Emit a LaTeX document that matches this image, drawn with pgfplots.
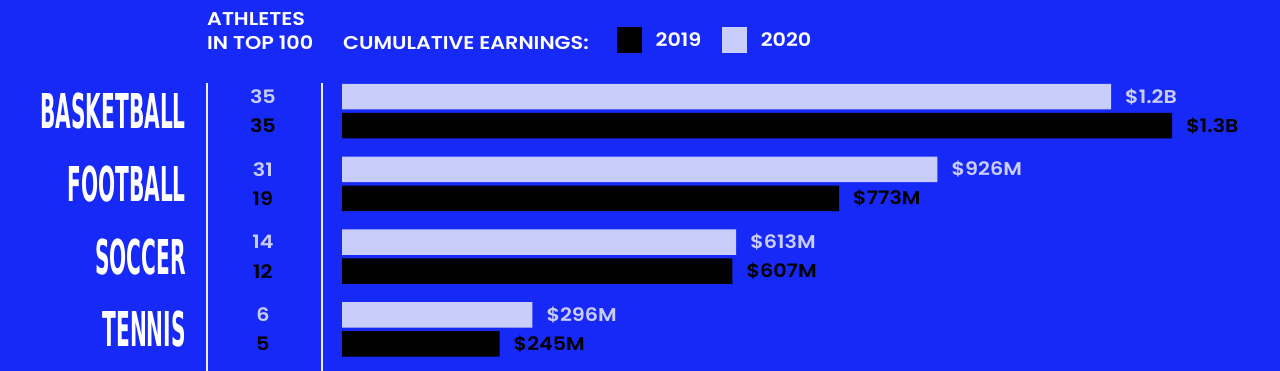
\documentclass[border=0pt]{standalone}
\usepackage{fontspec}
\usepackage{pgfplots}
\pgfplotsset{compat=1.18}
\setmainfont{Poppins SemiBold}[FakeStretch=1.12]
\newfontfamily\cond[FakeStretch=0.42]{DejaVu Sans}
\definecolor{bg}{HTML}{1729F6}
\definecolor{lite}{HTML}{C9CDF9}
\newcommand\sm{\fontsize{18.5}{20}\selectfont}
\begin{document}
\begin{tikzpicture}[x=1pt,y=1pt]
\useasboundingbox (0,0) rectangle (1280,371);
\fill[bg] (0,0) rectangle (1280,371);
\draw[white!92!bg, line width=2pt] (207,0) -- (207,288);
\draw[white!92!bg, line width=2pt] (322,0) -- (322,288);
\node[anchor=base west, text=white, font=\sm, inner sep=0pt] at (207,345) {ATHLETES};
\node[anchor=base west, text=white, font=\sm, inner sep=0pt] at (207,321) {IN TOP 100};
\node[anchor=base west, text=white, font=\sm, inner sep=0pt] at (343,321) {CUMULATIVE EARNINGS:};
\begin{axis}[at={(342pt,5.1pt)}, anchor=south west, scale only axis,
  width=900.2pt, height=291.2pt, xmin=0, xmax=1400, ymin=-0.5, ymax=3.5,
  clip=false, axis lines=left, axis line style={draw=none},
  xtick=\empty, ytick={0,1,2,3},
  yticklabels={TENNIS,SOCCER,FOOTBALL,BASKETBALL},
  major tick length=0pt,
  yticklabel style={font=\cond\bfseries\fontsize{48}{48}\selectfont, text=white, anchor=east, inner sep=0pt, xshift=-156pt},
  legend style={at={(0.3055,1.119)}, anchor=west, draw=none, fill=none, text=white, font=\sm, legend columns=-1,
    inner sep=0pt, nodes={inner xsep=0pt},
    /tikz/every odd column/.append style={column sep=14pt},
    /tikz/every even column/.append style={column sep=21pt}},
]
% counts of athletes in top 100
\addplot[only marks, mark=*, mark size=0pt, mark options={draw=none,fill=none}, nodes near coords, point meta=explicit symbolic,
  nodes near coords style={anchor=center, text=lite, font=\sm}, forget plot]
  coordinates {(-123,3.199)[35] (-123,2.199)[31] (-123,1.199)[14] (-123,0.199)[6]};
\addplot[only marks, mark=*, mark size=0pt, mark options={draw=none,fill=none}, nodes near coords, point meta=explicit symbolic,
  nodes near coords style={anchor=center, text=black, font=\sm}, forget plot]
  coordinates {(-123,2.801)[35] (-123,1.801)[19] (-123,0.801)[12] (-123,-0.199)[5]};
% 2019 earnings ($M)
\addplot[xbar, bar width=25.5pt, bar shift=-14.5pt, fill=black, draw=none, nodes near coords, point meta=explicit symbolic,
  nodes near coords style={anchor=west, text=black, xshift=14pt, yshift=-14.5pt, inner sep=0pt, font=\sm}, forget plot]
  coordinates {(1291,3)[\$1.3B] (773,2)[\$773M] (607,1)[\$607M] (245,0)[\$245M]};
% 2020 earnings ($M)
\addplot[xbar, bar width=25.5pt, bar shift=14.5pt, fill=lite, draw=none, nodes near coords, point meta=explicit symbolic,
  nodes near coords style={anchor=west, text=lite, xshift=14pt, yshift=14.5pt, inner sep=0pt, font=\sm}, forget plot]
  coordinates {(1196,3)[\$1.2B] (926,2)[\$926M] (613,1)[\$613M] (296,0)[\$296M]};
\addlegendimage{legend image code/.code={\fill[black] (0pt,-12.5pt) rectangle (24pt,12.5pt);}}
\addlegendentry{2019}
\addlegendimage{legend image code/.code={\fill[lite] (0pt,-12.5pt) rectangle (24pt,12.5pt);}}
\addlegendentry{2020}
\end{axis}
\end{tikzpicture}
\end{document}
